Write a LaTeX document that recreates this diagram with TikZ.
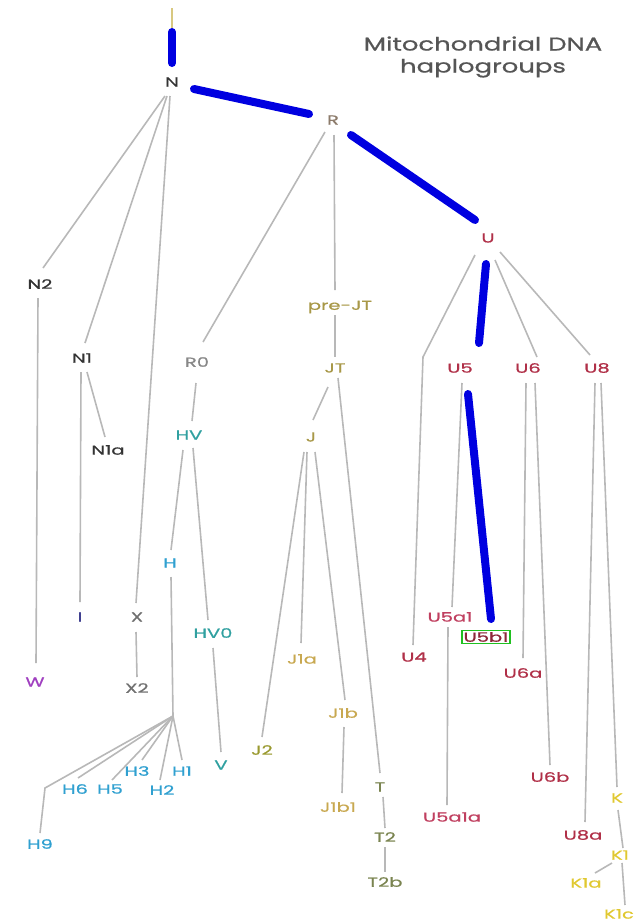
\documentclass[tikz,border=0pt]{standalone}
\usepackage{fontspec}
\usetikzlibrary{calc}
\newfontfamily\lblfont{Poppins}[FakeStretch=1.5,FakeBold=0.8]
\newfontfamily\ttlfont{Poppins}[FakeStretch=1.4,FakeBold=0.8]
\definecolor{lgray}{HTML}{B8B8B8}
\definecolor{hblue}{HTML}{0000E0}
\definecolor{cN}{HTML}{333333}
\definecolor{cR}{HTML}{8C7B6B}
\definecolor{cRo}{HTML}{888888}
\definecolor{cX}{HTML}{707070}
\definecolor{cW}{HTML}{A040C0}
\definecolor{cI}{HTML}{404090}
\definecolor{cHV}{HTML}{30A0A0}
\definecolor{cH}{HTML}{30A0D0}
\definecolor{cJT}{HTML}{A89848}
\definecolor{cJa}{HTML}{C8A850}
\definecolor{cJb}{HTML}{9A9A30}
\definecolor{cT}{HTML}{7A8450}
\definecolor{cU}{HTML}{B03048}
\definecolor{cUp}{HTML}{C04060}
\definecolor{cK}{HTML}{E0C830}
\definecolor{cRoot}{HTML}{D8C880}
\definecolor{cBox}{HTML}{20C020}
\definecolor{cTitle}{HTML}{555555}
\begin{document}
\begin{tikzpicture}[x=1pt,y=-1pt,
  lbl/.style={font=\lblfont\fontsize{13}{15}\selectfont, inner sep=1pt},
  edge/.style={draw=lgray, line width=1.6},
  hl/.style={draw=hblue, line width=8, line cap=round}]
\useasboundingbox (0,0) rectangle (639,924);
% title
\node[font=\ttlfont\fontsize{18.5}{22}\selectfont, text=cTitle, align=center] (title) at (483,57) {Mitochondrial DNA\\haplogroups};
% nodes
\node[lbl,text=cN] (N) at (172,82) {N};
\node[lbl,text=cR] (R) at (333,120) {R};
\node[lbl,text=cU] (U) at (488,238) {U};
\node[lbl,text=cN] (N2) at (40,284) {N2};
\node[lbl,text=cN] (N1) at (82,358) {N1};
\node[lbl,text=cN] (N1a) at (108,450) {N1a};
\node[lbl,text=cW] (W) at (35,682) {W};
\node[lbl,text=cI] (I) at (80,617) {I};
\node[lbl,text=cX] (X) at (137,617) {X};
\node[lbl,text=cX] (X2) at (137,688) {X2};
\node[lbl,text=cRo] (R0) at (197,362) {R0};
\node[lbl,text=cHV] (HV) at (189,435) {HV};
\node[lbl,text=cH] (H) at (170,563) {H};
\node[lbl,text=cHV] (HV0) at (213,633) {HV0};
\node[lbl,text=cHV] (V) at (221,765) {V};
\node[lbl,text=cH] (H9) at (40,844) {H9};
\node[lbl,text=cH] (H6) at (75,789) {H6};
\node[lbl,text=cH] (H5) at (110,789) {H5};
\node[lbl,text=cH] (H3) at (137,771) {H3};
\node[lbl,text=cH] (H2) at (162,790) {H2};
\node[lbl,text=cH] (H1) at (182,771) {H1};
\node[lbl,text=cJT] (preJT) at (340,307) {pre-JT};
\node[lbl,text=cJT] (JT) at (335,368) {JT};
\node[lbl,text=cJT] (J) at (311,437) {J};
\node[lbl,text=cJb] (J2) at (262,750) {J2};
\node[lbl,text=cJa] (J1a) at (302,659) {J1a};
\node[lbl,text=cJa] (J1b) at (343,713) {J1b};
\node[lbl,text=cJa] (J1b1) at (338,807) {J1b1};
\node[lbl,text=cT] (T) at (380,787) {T};
\node[lbl,text=cT] (T2) at (385,837) {T2};
\node[lbl,text=cT] (T2b) at (385,882) {T2b};
\node[lbl,text=cU] (U4) at (414,657) {U4};
\node[lbl,text=cU] (U5) at (460,368) {U5};
\node[lbl,text=cU] (U6) at (528,368) {U6};
\node[lbl,text=cU] (U8) at (597,368) {U8};
\node[lbl,text=cUp] (U5a1) at (450,617) {U5a1};
\node[lbl,text=cU!80!black, draw=cBox, line width=1.5, inner sep=1.5pt] (U5b1) at (486,637) {U5b1};
\node[lbl,text=cUp] (U5a1a) at (452,817) {U5a1a};
\node[lbl,text=cU] (U6a) at (523,673) {U6a};
\node[lbl,text=cU] (U6b) at (550,777) {U6b};
\node[lbl,text=cU] (U8a) at (583,835) {U8a};
\node[lbl,text=cK] (K) at (617,798) {K};
\node[lbl,text=cK] (K1) at (620,855) {K1};
\node[lbl,text=cK] (K1a) at (586,883) {K1a};
\node[lbl,text=cK] (K1c) at (619,914) {K1c};
% helper coordinates
\coordinate (root) at (172,8);
\coordinate (rootb) at (172,28);
\coordinate (Hj) at (173,716);
\coordinate (Hb) at (45,788);
\coordinate (U4b) at (423,357);
% root
\draw[draw=cRoot, line width=1.2] (root) -- (rootb);
% gray edges
\draw[edge] ($(N)+(-7,14)$) -- ($(N2)+(3,-16)$);
\draw[edge] ($(N)+(-5,14)$) -- ($(N1)+(3,-15)$);
\draw[edge] ($(N)+(-2,14)$) -- ($(X)+(-1,-14)$);
\draw[edge] ($(N2)+(-2,14)$) -- ($(W)+(1,-19)$);
\draw[edge] ($(N1)+(-1,14)$) -- ($(I)+(0,-15)$);
\draw[edge] ($(N1)+(5,14)$) -- ($(N1a)+(-3,-13)$);
\draw[edge] ($(X)+(-1,15)$) -- ($(X2)+(0,-11)$);
\draw[edge] ($(R)+(-8,12)$) -- ($(R0)+(6,-20)$);
\draw[edge] ($(R)+(1,15)$) -- ($(preJT)+(-5,-17)$);
\draw[edge] ($(preJT)+(-5,8)$) -- ($(JT)+(0,-11)$);
\draw[edge] ($(JT)+(-7,19)$) -- ($(J)+(2,-17)$);
\draw[edge] ($(JT)+(3,10)$) -- ($(T)+(0,-14)$);
\draw[edge] ($(J)+(-7,15)$) -- ($(J2)+(0,-13)$);
\draw[edge] ($(J)+(-4,15)$) -- ($(J1a)+(-1,-16)$);
\draw[edge] ($(J)+(4,15)$) -- ($(J1b)+(2,-13)$);
\draw[edge] ($(J1b)+(1,14)$) -- ($(J1b1)+(4,-14)$);
\draw[edge] ($(T)+(3,10)$) -- ($(T2)+(0,-9)$);
\draw[edge] ($(T2)+(0,10)$) -- ($(T2b)+(0,-10)$);
\draw[edge] ($(R0)+(-1,21)$) -- ($(HV)+(3,-14)$);
\draw[edge] ($(HV)+(-6,15)$) -- ($(H)+(1,-13)$);
\draw[edge] ($(HV)+(4,13)$) -- ($(HV0)+(-5,-13)$);
\draw[edge] ($(HV0)+(0,15)$) -- ($(V)+(0,-13)$);
\draw[edge] ($(H)+(1,14)$) -- (Hj);
\draw[edge] (Hj) -- (Hb) -- ($(H9)+(0,-11)$);
\draw[edge] (Hj) -- ($(H6)+(3,-11)$);
\draw[edge] (Hj) -- ($(H5)+(2,-9)$);
\draw[edge] (Hj) -- ($(H3)+(5,-11)$);
\draw[edge] (Hj) -- ($(H2)+(-2,-10)$);
\draw[edge] (Hj) -- ($(H1)+(0,-11)$);
\draw[edge] ($(U)+(-13,17)$) -- (U4b) -- ($(U4)+(-1,-12)$);
\draw[edge] ($(U)+(7,22)$) -- ($(U6)+(9,-11)$);
\draw[edge] ($(U)+(12,14)$) -- ($(U8)+(-7,-13)$);
\draw[edge] ($(U5)+(2,15)$) -- ($(U5a1)+(2,-10)$);
\draw[edge] ($(U5a1)+(-2,10)$) -- ($(U5a1a)+(-5,-12)$);
\draw[edge] ($(U6)+(-2,15)$) -- ($(U6a)+(0,-15)$);
\draw[edge] ($(U6)+(7,15)$) -- ($(U6b)+(0,-12)$);
\draw[edge] ($(U8)+(-2,15)$) -- ($(U8a)+(2,-13)$);
\draw[edge] ($(U8)+(4,15)$) -- ($(K)+(0,-11)$);
\draw[edge] ($(K)+(1,12)$) -- ($(K1)+(3,-7)$);
\draw[edge] ($(K1)+(-8,8)$) -- ($(K1a)+(9,-10)$);
\draw[edge] ($(K1)+(2,8)$) -- ($(K1c)+(6,-9)$);
% highlighted path
\draw[hl] ($(rootb)+(0,4)$) -- ($(N)+(0,-19)$);
\draw[hl] ($(N)+(22,7)$) -- ($(R)+(-24,-6)$);
\draw[hl] ($(R)+(18,15)$) -- ($(U)+(-13,-18)$);
\draw[hl] ($(U)+(-2,26)$) -- ($(U5)+(19,-25)$);
\draw[hl] ($(U5)+(8,26)$) -- ($(U5b1)+(5,-18)$);
\end{tikzpicture}
\end{document}
